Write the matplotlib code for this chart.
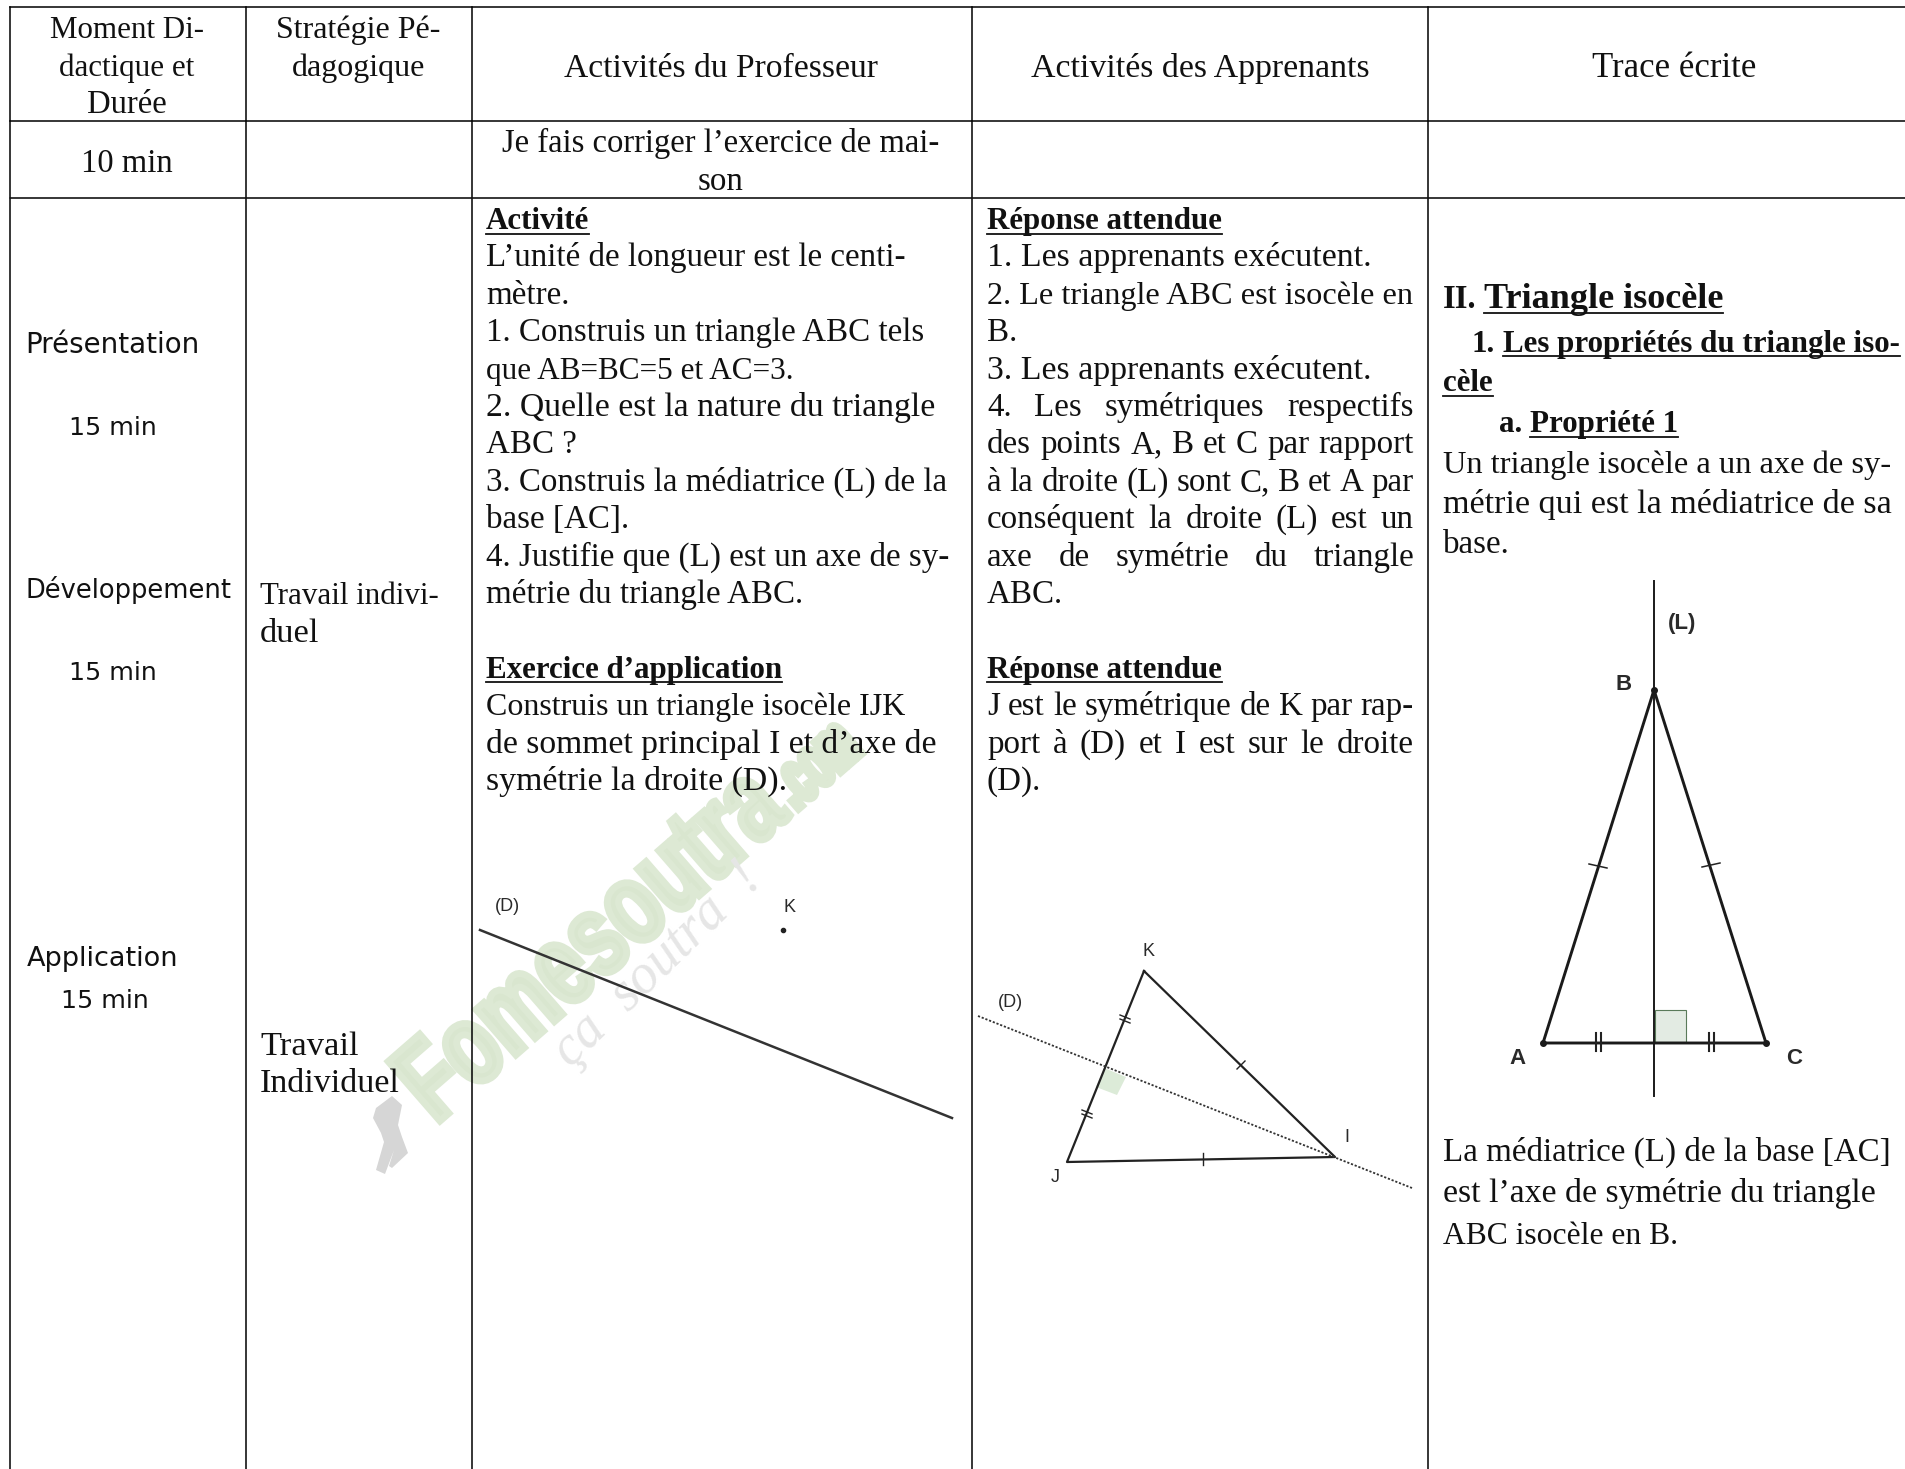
#!/usr/bin/env python3

'''
    Lesson plan table on the isosceles triangle, redrawn with matplotlib.
'''
import math

import matplotlib
matplotlib.use("Agg")
import matplotlib.pyplot as plt
from matplotlib.font_manager import FontProperties
from matplotlib.patches import PathPatch
from matplotlib.textpath import TextPath
from matplotlib.transforms import Affine2D

SERIF = "Liberation Serif"
HAND = "DejaVu Sans"
BODY_SIZE = 23.8
BOLD_SIZE = 22.3

column_edges = [10.5, 245.7, 471.7, 972, 1427.7]
row_edges = [7.3, 121.3, 198.3]

header_center = [127, 358.6, 721, 1200, 1674]
headers = [
    ["Moment Di-", "dactique et", "Durée"],
    ["Stratégie Pé-", "dagogique"],
    ["Activités du Professeur"],
    ["Activités des Apprenants"],
    ["Trace écrite"],
]

moments = ["Présentation", "15 min", "Développement", "15 min", "Application", "15 min"]
moment_x = [25, 69, 26, 69, 27, 61]
moment_y = [353, 435, 598, 680, 966, 1008]
moment_size = [20, 18.2, 18.5, 18.2, 19.5, 18.2]

strategies = ["Travail indivi-", "duel", "Travail", "Individuel"]
strategy_y = [604, 642, 1054.6, 1092]

# lines that run narrower or wider than the rest in the original font
size_override = {
    "Moment Di-": 22.3, "dactique et": 22.3, "Durée": 23.5, "Stratégie Pé-": 23, "dagogique": 23,
    "Activités du Professeur": 24.2, "Activités des Apprenants": 24.4, "Trace écrite": 25,
    "Travail indivi-": 22.3, "duel": 24.8, "Travail": 24.8, "Individuel": 24.5,
    "que AB=BC=5 et AC=3.": 22.5, "Construis un triangle isocèle IJK": 23,
    "2. Le triangle ABC est isocèle en": 23.2, "1. Les apprenants exécutent.": 24.4,
    "3. Les apprenants exécutent.": 24.4, "ABC isocèle en B.": 22.8,
    "Un triangle isocèle a un axe de sy-": 23.4, "métrie qui est la médiatrice de sa": 24.6,
    "est l’axe de symétrie du triangle": 24.3, "2. Quelle est la nature du triangle": 24.3,
    "de sommet principal I et d’axe de": 24.2, "symétrie la droite (D).": 24.4,
}

# (text, bold heading, justified)
teacher_lines = [
    ("Activité", True, False),
    ("L’unité de longueur est le centi-", False, False),
    ("mètre.", False, False),
    ("1. Construis un triangle ABC tels", False, False),
    ("que AB=BC=5 et AC=3.", False, False),
    ("2. Quelle est la nature du triangle", False, False),
    ("ABC ?", False, False),
    ("3. Construis la médiatrice (L) de la", False, False),
    ("base [AC].", False, False),
    ("4. Justifie que (L) est un axe de sy-", False, False),
    ("métrie du triangle ABC.", False, False),
    ("", False, False),
    ("Exercice d’application", True, False),
    ("Construis un triangle isocèle IJK", False, False),
    ("de sommet principal I et d’axe de", False, False),
    ("symétrie la droite (D).", False, False),
]
learner_lines = [
    ("Réponse attendue", True, False),
    ("1. Les apprenants exécutent.", False, False),
    ("2. Le triangle ABC est isocèle en", False, False),
    ("B.", False, False),
    ("3. Les apprenants exécutent.", False, False),
    ("4. Les symétriques respectifs", False, True),
    ("des points A, B et C par rapport", False, True),
    ("à la droite (L) sont C, B et A par", False, True),
    ("conséquent la droite (L) est un", False, True),
    ("axe de symétrie du triangle", False, True),
    ("ABC.", False, False),
    ("", False, False),
    ("Réponse attendue", True, False),
    ("J est le symétrique de K par rap-", False, True),
    ("port à (D) et I est sur le droite", False, True),
    ("(D).", False, False),
]

# diagram 1: line (D) and point K
d1_line_x = [480, 952]
d1_line_y = [930, 1118]
d1_point = (783, 930)

# diagram 2: triangle IJK
d2_tri_x = [1144, 1067, 1335, 1144]
d2_tri_y = [971, 1162, 1157, 971]
d2_axis_x = [978, 1412]
d2_axis_y = [1016, 1188]
d2_square_x = [1104, 1126, 1117, 1096]
d2_square_y = [1068, 1077, 1095, 1087]

# diagram 3: triangle ABC
d3_tri_x = [1543, 1654, 1766, 1543]
d3_tri_y = [1043, 690, 1043, 1043]
d3_axis_x = [1654, 1654]
d3_axis_y = [581, 1096]
d3_square_x = [1655, 1686, 1686, 1655]
d3_square_y = [1010, 1010, 1042, 1042]

runner_x = [392, 376, 373, 381, 384, 376, 385, 394, 389, 392, 408, 402, 398, 402]
runner_y = [1096, 1108, 1118, 1133, 1142, 1170, 1174, 1150, 1166, 1168, 1153, 1137, 1125, 1105]

fig = plt.figure(figsize=(19.06, 14.69), dpi=100)
ax = fig.add_axes([0, 0, 1, 1])
ax.set_xlim(0, 1906)
ax.set_ylim(1469, 0)
ax.axis("off")


def text_width(s, **kw):
    t = ax.text(0, 0, s, **kw)
    w = t.get_window_extent(fig.canvas.get_renderer()).width
    t.remove()
    return w


def body(x, y, s, size=None, bold=False, underline=False, ha="left"):
    if size is None:
        size = BOLD_SIZE if bold else size_override.get(s, BODY_SIZE)
    kw = dict(family=SERIF, fontsize=size, weight="bold" if bold else "normal", color="#111111")
    ax.text(x, y, s, va="baseline", ha=ha, zorder=5, **kw)
    if underline:
        ax.plot([x, x + text_width(s, **kw)], [y + 4.5, y + 4.5], color="#111111", lw=1.3, zorder=5)


def justified(x, y, s, right, size=BODY_SIZE):
    kw = dict(family=SERIF, fontsize=size, color="#111111")
    words = s.split(" ")
    widths = [text_width(w, **kw) for w in words]
    gap = (right - x - sum(widths)) / (len(words) - 1)
    for w, wd in zip(words, widths):
        ax.text(x, y, w, va="baseline", ha="left", zorder=5, **kw)
        x += wd + gap


def label(x, y, s, size=13, weight="normal"):
    ax.text(x, y, s, family="Liberation Sans", fontsize=size, ha="center", va="center",
            color="#2a2a2a", weight=weight, zorder=4)


def tick(cx, cy, dx, dy, lw=1.0):
    ax.plot([cx - dx, cx + dx], [cy - dy, cy + dy], color="#222222", lw=lw, zorder=4)


def stretched_text(s, x, y, length, height, angle):
    fp = FontProperties(family="Liberation Sans", weight="bold")
    tp = TextPath((0, 0), s, size=1, prop=fp)
    ext = tp.get_extents()
    move = Affine2D().translate(-ext.x0, 0).scale(length / ext.width, -height / ext.height)
    move = move.rotate_deg(-angle).translate(x, y)
    ax.add_patch(PathPatch(tp, transform=move + ax.transData, facecolor="#d9e6cf",
                           edgecolor="#dde9d4", lw=5, zorder=1))


# watermark sits under everything
stretched_text("Fomesoutra", 440, 1121, 465, 80, 41)
stretched_text(".com", 440 + 475 * math.cos(math.radians(41)), 1121 - 475 * math.sin(math.radians(41)),
               85, 42, 41)
ax.text(657, 965, "ça  soutra  !", rotation=44, rotation_mode="anchor", ha="center", va="center",
        family=SERIF, style="italic", fontsize=40, color="#e6e6e6", zorder=1)
ax.fill(runner_x, runner_y, color="#d6d6d6", lw=0, zorder=1)

# grid
for x in column_edges:
    ax.plot([x, x], [row_edges[0], row_edges[2] - 1.5], color="black", lw=1.1, zorder=3)
    ax.plot([x, x], [row_edges[2] + 1, 1469], color="black", lw=1.1, zorder=3)
for y in row_edges:
    ax.plot([column_edges[0], 1906], [y, y], color="black", lw=1.1, zorder=3)

# header rows
for center, lines in zip(header_center, headers):
    first = 77 if len(lines) == 1 else 38
    for i, line in enumerate(lines):
        body(center, first + i * 37.5, line, ha="center")
body(127, 172, "10 min", size=23.5, ha="center")
body(721, 152, "Je fais corriger l’exercice de mai-", size=23.5, ha="center")
body(721, 190, "son", ha="center")

# left columns
for s, x, y, size in zip(moments, moment_x, moment_y, moment_size):
    ax.text(x, y, s, family=HAND, fontsize=size, va="baseline", color="#111111", zorder=5)
for s, y in zip(strategies, strategy_y):
    body(260, y, s)

# teacher and learner columns
for i, (s, bold, _) in enumerate(teacher_lines):
    if s:
        body(486, 229 + i * 37.4, s, bold=bold, underline=bold)
for i, (s, bold, just) in enumerate(learner_lines):
    y = 229 + i * 37.4
    if just:
        justified(987, y, s, 1414)
    elif s:
        body(987, y, s, bold=bold, underline=bold)

# trace ecrite column
body(1443, 308, "II.", size=23.5, bold=True)
body(1484, 308, "Triangle isocèle", size=26, bold=True, underline=True)
body(1472, 351.5, "1.", bold=True)
body(1472 + text_width("1. ", family=SERIF, fontsize=BOLD_SIZE, weight="bold"), 351.5,
     "Les propriétés du triangle iso-", bold=True, underline=True)
body(1443, 391, "cèle", bold=True, underline=True)
body(1499, 432, "a.", bold=True)
body(1499 + text_width("a. ", family=SERIF, fontsize=BOLD_SIZE, weight="bold"), 432, "Propriété 1",
     bold=True, underline=True)
for y, s in zip([473, 513, 553], ["Un triangle isocèle a un axe de sy-",
                                  "métrie qui est la médiatrice de sa", "base."]):
    body(1443, y, s)
for y, s in zip([1161, 1202, 1244], ["La médiatrice (L) de la base [AC]",
                                     "est l’axe de symétrie du triangle", "ABC isocèle en B."]):
    body(1443, y, s)

# diagram 1
ax.plot(d1_line_x, d1_line_y, color="#333333", lw=1.8, zorder=4)
ax.plot(*d1_point, "o", color="#222222", ms=3, zorder=4)
label(507, 906, "(D)")
label(790, 907, "K")

# diagram 2
ax.fill(d2_square_x, d2_square_y, color="#dcebd8", lw=0, zorder=2)
ax.plot(d2_tri_x, d2_tri_y, color="#222222", lw=1.6, zorder=4)
ax.plot(d2_axis_x, d2_axis_y, color="#333333", lw=1.3, ls=(0, (1.2, 1.0)), zorder=4)
label(1149, 951, "K")
label(1010, 1002, "(D)")
label(1347, 1137, "I")
label(1055, 1178, "J")
for cx, cy in [(1125, 1017), (1125, 1021), (1087, 1112), (1087, 1116)]:
    tick(cx, cy, 5, 2, 1.0)
tick(1241, 1065, 4, -4, 1.0)
tick(1203, 1159, 0, 6, 1.0)

# diagram 3
ax.fill(d3_square_x, d3_square_y, facecolor="#e3ebe3", edgecolor="#5a7a5a", lw=0.8, zorder=2)
ax.plot(d3_tri_x, d3_tri_y, color="#1a1a1a", lw=2.1, zorder=4)
ax.plot(d3_axis_x, d3_axis_y, color="#1a1a1a", lw=1.4, zorder=4)
ax.plot(d3_tri_x[:3], d3_tri_y[:3], "o", color="#1a1a1a", ms=4, zorder=4)
label(1518, 1058, "A", 16, "bold")
label(1794, 1058, "C", 16, "bold")
label(1624, 684, "B", 16, "bold")
label(1682, 623, "(L)", 16, "bold")
tick(1598, 866, 9, 2, 1.1)
tick(1711, 865, 9, -2, 1.1)
for cx in [1596, 1601, 1709, 1714]:
    tick(cx, 1042, 0, 9, 1.5)

fig.savefig("out.png", dpi=100)
